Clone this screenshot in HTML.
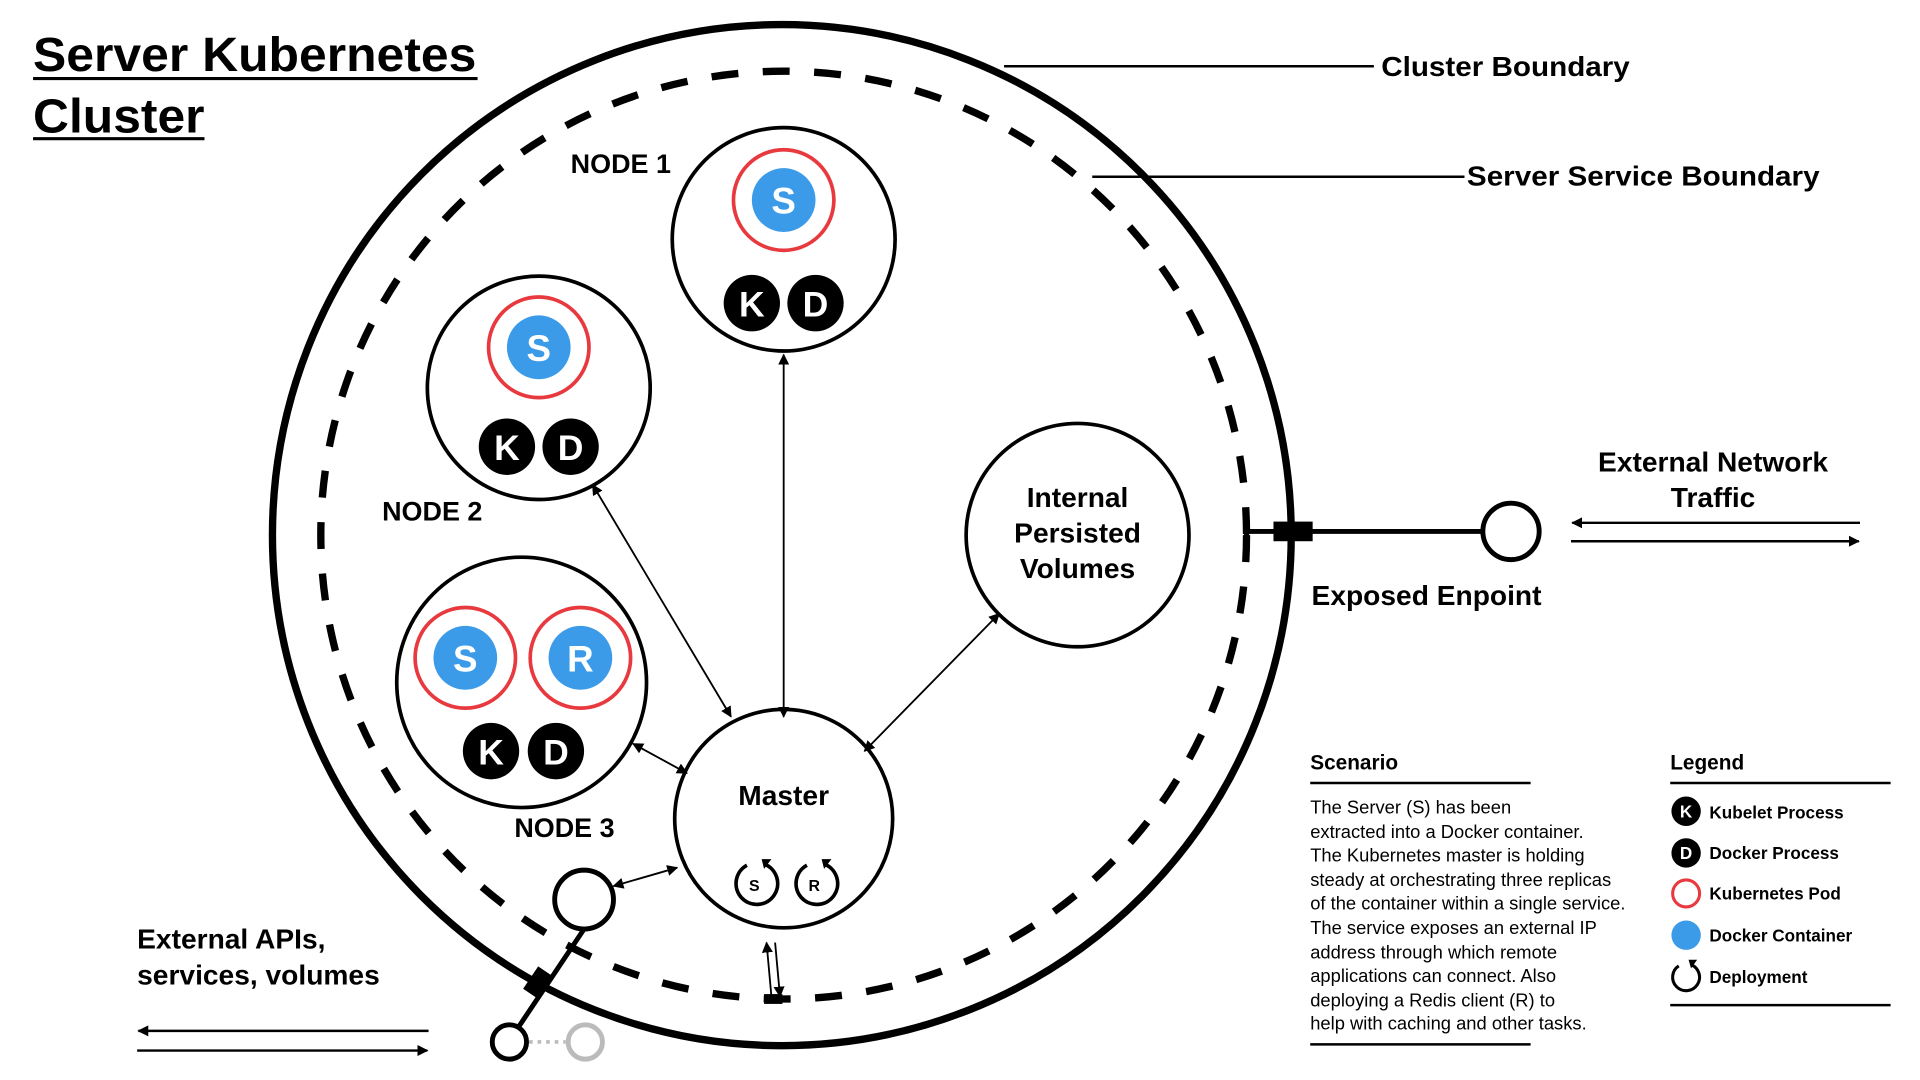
<!DOCTYPE html>
<html><head><meta charset="utf-8"><style>
html,body{margin:0;padding:0;background:#fff;}
svg{display:block;}
text{font-family:"Liberation Sans",Arial,sans-serif;}
.b{font-weight:bold;}
</style></head><body>
<svg width="1920" height="1080" viewBox="0 0 1568 880" preserveAspectRatio="none" xmlns="http://www.w3.org/2000/svg">
<defs>
<marker id="ah" viewBox="0 0 10 10" refX="9" refY="5" markerWidth="9" markerHeight="9" markerUnits="userSpaceOnUse" orient="auto-start-reverse"><path d="M0,0 L10,5 L0,10 z" fill="#000"/></marker>
</defs>
<text x="27" y="58" class="b" font-size="39" textLength="362" lengthAdjust="spacingAndGlyphs">Server Kubernetes</text>
<line x1="27" y1="64" x2="390" y2="64" stroke="#000" stroke-width="2.5"/>
<text x="27" y="108" class="b" font-size="39" textLength="140" lengthAdjust="spacingAndGlyphs">Cluster</text>
<line x1="27" y1="113" x2="167" y2="113" stroke="#000" stroke-width="2.5"/>

<circle cx="638.5" cy="436" r="416" fill="none" stroke="#000" stroke-width="6"/>
<circle cx="640" cy="436" r="378" fill="none" stroke="#000" stroke-width="6" stroke-dasharray="22 20"/>

<line x1="820" y1="54" x2="1122" y2="54" stroke="#000" stroke-width="2"/>
<text x="1128" y="62" class="b" font-size="23" textLength="203" lengthAdjust="spacingAndGlyphs">Cluster Boundary</text>
<line x1="892" y1="144" x2="1196" y2="144" stroke="#000" stroke-width="2"/>
<text x="1198" y="151" class="b" font-size="23" textLength="288" lengthAdjust="spacingAndGlyphs">Server Service Boundary</text>

<!-- Node 1 -->
<circle cx="640" cy="195" r="91" fill="#fff" stroke="#000" stroke-width="3"/>
<circle cx="640" cy="163" r="41" fill="none" stroke="#e8393f" stroke-width="3"/>
<circle cx="640" cy="163" r="26" fill="#3b9be8"/>
<text x="640" y="174" text-anchor="middle" class="b" font-size="30" fill="#fff">S</text>
<circle cx="614" cy="247" r="23" fill="#000"/><text x="614" y="258" text-anchor="middle" class="b" font-size="29" fill="#fff">K</text>
<circle cx="666" cy="247" r="23" fill="#000"/><text x="666" y="258" text-anchor="middle" class="b" font-size="29" fill="#fff">D</text>
<text x="507" y="141" text-anchor="middle" class="b" font-size="22">NODE 1</text>

<!-- Node 2 -->
<circle cx="440" cy="316" r="91" fill="#fff" stroke="#000" stroke-width="3"/>
<circle cx="440" cy="283" r="41" fill="none" stroke="#e8393f" stroke-width="3"/>
<circle cx="440" cy="283" r="26" fill="#3b9be8"/>
<text x="440" y="294" text-anchor="middle" class="b" font-size="30" fill="#fff">S</text>
<circle cx="414" cy="364" r="23" fill="#000"/><text x="414" y="375" text-anchor="middle" class="b" font-size="29" fill="#fff">K</text>
<circle cx="466" cy="364" r="23" fill="#000"/><text x="466" y="375" text-anchor="middle" class="b" font-size="29" fill="#fff">D</text>
<text x="353" y="424" text-anchor="middle" class="b" font-size="22">NODE 2</text>

<!-- Node 3 -->
<circle cx="426" cy="556" r="102" fill="#fff" stroke="#000" stroke-width="3"/>
<circle cx="380" cy="536" r="41" fill="none" stroke="#e8393f" stroke-width="3"/>
<circle cx="380" cy="536" r="26" fill="#3b9be8"/>
<text x="380" y="547" text-anchor="middle" class="b" font-size="30" fill="#fff">S</text>
<circle cx="474" cy="536" r="41" fill="none" stroke="#e8393f" stroke-width="3"/>
<circle cx="474" cy="536" r="26" fill="#3b9be8"/>
<text x="474" y="547" text-anchor="middle" class="b" font-size="30" fill="#fff">R</text>
<circle cx="401" cy="612" r="23" fill="#000"/><text x="401" y="623" text-anchor="middle" class="b" font-size="29" fill="#fff">K</text>
<circle cx="454" cy="612" r="23" fill="#000"/><text x="454" y="623" text-anchor="middle" class="b" font-size="29" fill="#fff">D</text>
<text x="461" y="682" text-anchor="middle" class="b" font-size="22">NODE 3</text>

<!-- Volumes -->
<circle cx="880" cy="436" r="91" fill="#fff" stroke="#000" stroke-width="3"/>
<text x="880" y="413" text-anchor="middle" class="b" font-size="23">Internal</text>
<text x="880" y="442" text-anchor="middle" class="b" font-size="23">Persisted</text>
<text x="880" y="471" text-anchor="middle" class="b" font-size="23">Volumes</text>

<!-- Master -->
<circle cx="640" cy="667" r="89" fill="#fff" stroke="#000" stroke-width="3"/>
<text x="640" y="656" text-anchor="middle" class="b" font-size="23">Master</text>
<g fill="none" stroke="#000" stroke-width="3">
<path d="M610,705 A17,17 0 1 0 624,704"/>
<path d="M659,705 A17,17 0 1 0 673,704"/>
</g>
<path d="M622,700 L630,700 L624,708 z" fill="#000"/>
<path d="M671,700 L679,700 L673,708 z" fill="#000"/>
<text x="616" y="726" text-anchor="middle" class="b" font-size="13">S</text>
<text x="665" y="726" text-anchor="middle" class="b" font-size="13">R</text>

<!-- Connectors (drawn on top) -->
<line x1="640" y1="289" x2="640" y2="584" stroke="#000" stroke-width="1.5" marker-start="url(#ah)" marker-end="url(#ah)"/>
<line x1="484" y1="395" x2="597" y2="584" stroke="#000" stroke-width="1.5" marker-start="url(#ah)" marker-end="url(#ah)"/>
<line x1="517" y1="606" x2="561" y2="630" stroke="#000" stroke-width="1.5" marker-start="url(#ah)" marker-end="url(#ah)"/>
<line x1="816" y1="500" x2="706" y2="612" stroke="#000" stroke-width="1.5" marker-start="url(#ah)" marker-end="url(#ah)"/>
<line x1="501" y1="722" x2="553" y2="707" stroke="#000" stroke-width="1.5" marker-start="url(#ah)" marker-end="url(#ah)"/>
<line x1="626" y1="768" x2="630" y2="812" stroke="#000" stroke-width="1.5" marker-start="url(#ah)"/>
<line x1="633" y1="768" x2="637" y2="812" stroke="#000" stroke-width="1.5" marker-end="url(#ah)"/>
<rect x="624" y="810" width="15" height="8" fill="#000"/>

<!-- Right endpoint -->
<line x1="1018" y1="433" x2="1210" y2="433" stroke="#000" stroke-width="4"/>
<line x1="1018" y1="424" x2="1018" y2="442" stroke="#000" stroke-width="4"/>
<rect x="1040" y="425" width="32" height="16" fill="#000"/>
<circle cx="1234" cy="433" r="23" fill="#fff" stroke="#000" stroke-width="4"/>
<text x="1165" y="493" text-anchor="middle" class="b" font-size="23">Exposed Enpoint</text>
<text x="1399" y="384" text-anchor="middle" class="b" font-size="23">External Network</text>
<text x="1399" y="413" text-anchor="middle" class="b" font-size="23">Traffic</text>
<line x1="1519" y1="426" x2="1284" y2="426" stroke="#000" stroke-width="2" marker-end="url(#ah)"/>
<line x1="1283" y1="441" x2="1518" y2="441" stroke="#000" stroke-width="2" marker-end="url(#ah)"/>

<!-- Bottom-left endpoint -->
<line x1="477" y1="757" x2="420" y2="842" stroke="#000" stroke-width="4"/>
<rect x="432" y="790" width="16" height="22" fill="#000" transform="rotate(34 440 801)"/>
<circle cx="477" cy="733" r="24" fill="#fff" stroke="#000" stroke-width="4"/>
<circle cx="416" cy="849" r="14" fill="#fff" stroke="#000" stroke-width="4"/>
<line x1="432" y1="849" x2="462" y2="849" stroke="#bbb" stroke-width="3" stroke-dasharray="3 4"/>
<circle cx="478" cy="849" r="14" fill="#fff" stroke="#bbb" stroke-width="4"/>
<text x="112" y="773" class="b" font-size="23">External APIs,</text>
<text x="112" y="802" class="b" font-size="23">services, volumes</text>
<line x1="350" y1="840" x2="113" y2="840" stroke="#000" stroke-width="2" marker-end="url(#ah)"/>
<line x1="112" y1="856" x2="349" y2="856" stroke="#000" stroke-width="2" marker-end="url(#ah)"/>

<!-- Scenario -->
<text x="1070" y="627" class="b" font-size="17">Scenario</text>
<line x1="1070" y1="638" x2="1250" y2="638" stroke="#000" stroke-width="2"/>
<g font-size="15">
<text x="1070" y="663">The Server (S) has been</text>
<text x="1070" y="683">extracted into a Docker container.</text>
<text x="1070" y="702">The Kubernetes master is holding</text>
<text x="1070" y="722">steady at orchestrating three replicas</text>
<text x="1070" y="741">of the container within a single service.</text>
<text x="1070" y="761">The service exposes an external IP</text>
<text x="1070" y="781">address through which remote</text>
<text x="1070" y="800">applications can connect. Also</text>
<text x="1070" y="820">deploying a Redis client (R) to</text>
<text x="1070" y="839">help with caching and other tasks.</text>
</g>
<line x1="1070" y1="851" x2="1250" y2="851" stroke="#000" stroke-width="2"/>

<!-- Legend -->
<text x="1364" y="627" class="b" font-size="17">Legend</text>
<line x1="1364" y1="638" x2="1544" y2="638" stroke="#000" stroke-width="2"/>
<circle cx="1377" cy="661" r="12" fill="#000"/><text x="1377" y="666" text-anchor="middle" class="b" font-size="14" fill="#fff">K</text>
<circle cx="1377" cy="695" r="12" fill="#000"/><text x="1377" y="700" text-anchor="middle" class="b" font-size="14" fill="#fff">D</text>
<circle cx="1377" cy="728" r="11" fill="none" stroke="#e8393f" stroke-width="2.5"/>
<circle cx="1377" cy="762" r="12" fill="#3b9be8"/>
<path d="M1371,787 A11,11 0 1 0 1381,786" fill="none" stroke="#000" stroke-width="2.5"/>
<path d="M1379,782 L1386,782 L1381,789 z" fill="#000"/>
<g class="b" font-size="14">
<text x="1396" y="667">Kubelet Process</text>
<text x="1396" y="700">Docker Process</text>
<text x="1396" y="733">Kubernetes Pod</text>
<text x="1396" y="767">Docker Container</text>
<text x="1396" y="801">Deployment</text>
</g>
<line x1="1364" y1="819" x2="1544" y2="819" stroke="#000" stroke-width="2"/>
</svg>
</body></html>
